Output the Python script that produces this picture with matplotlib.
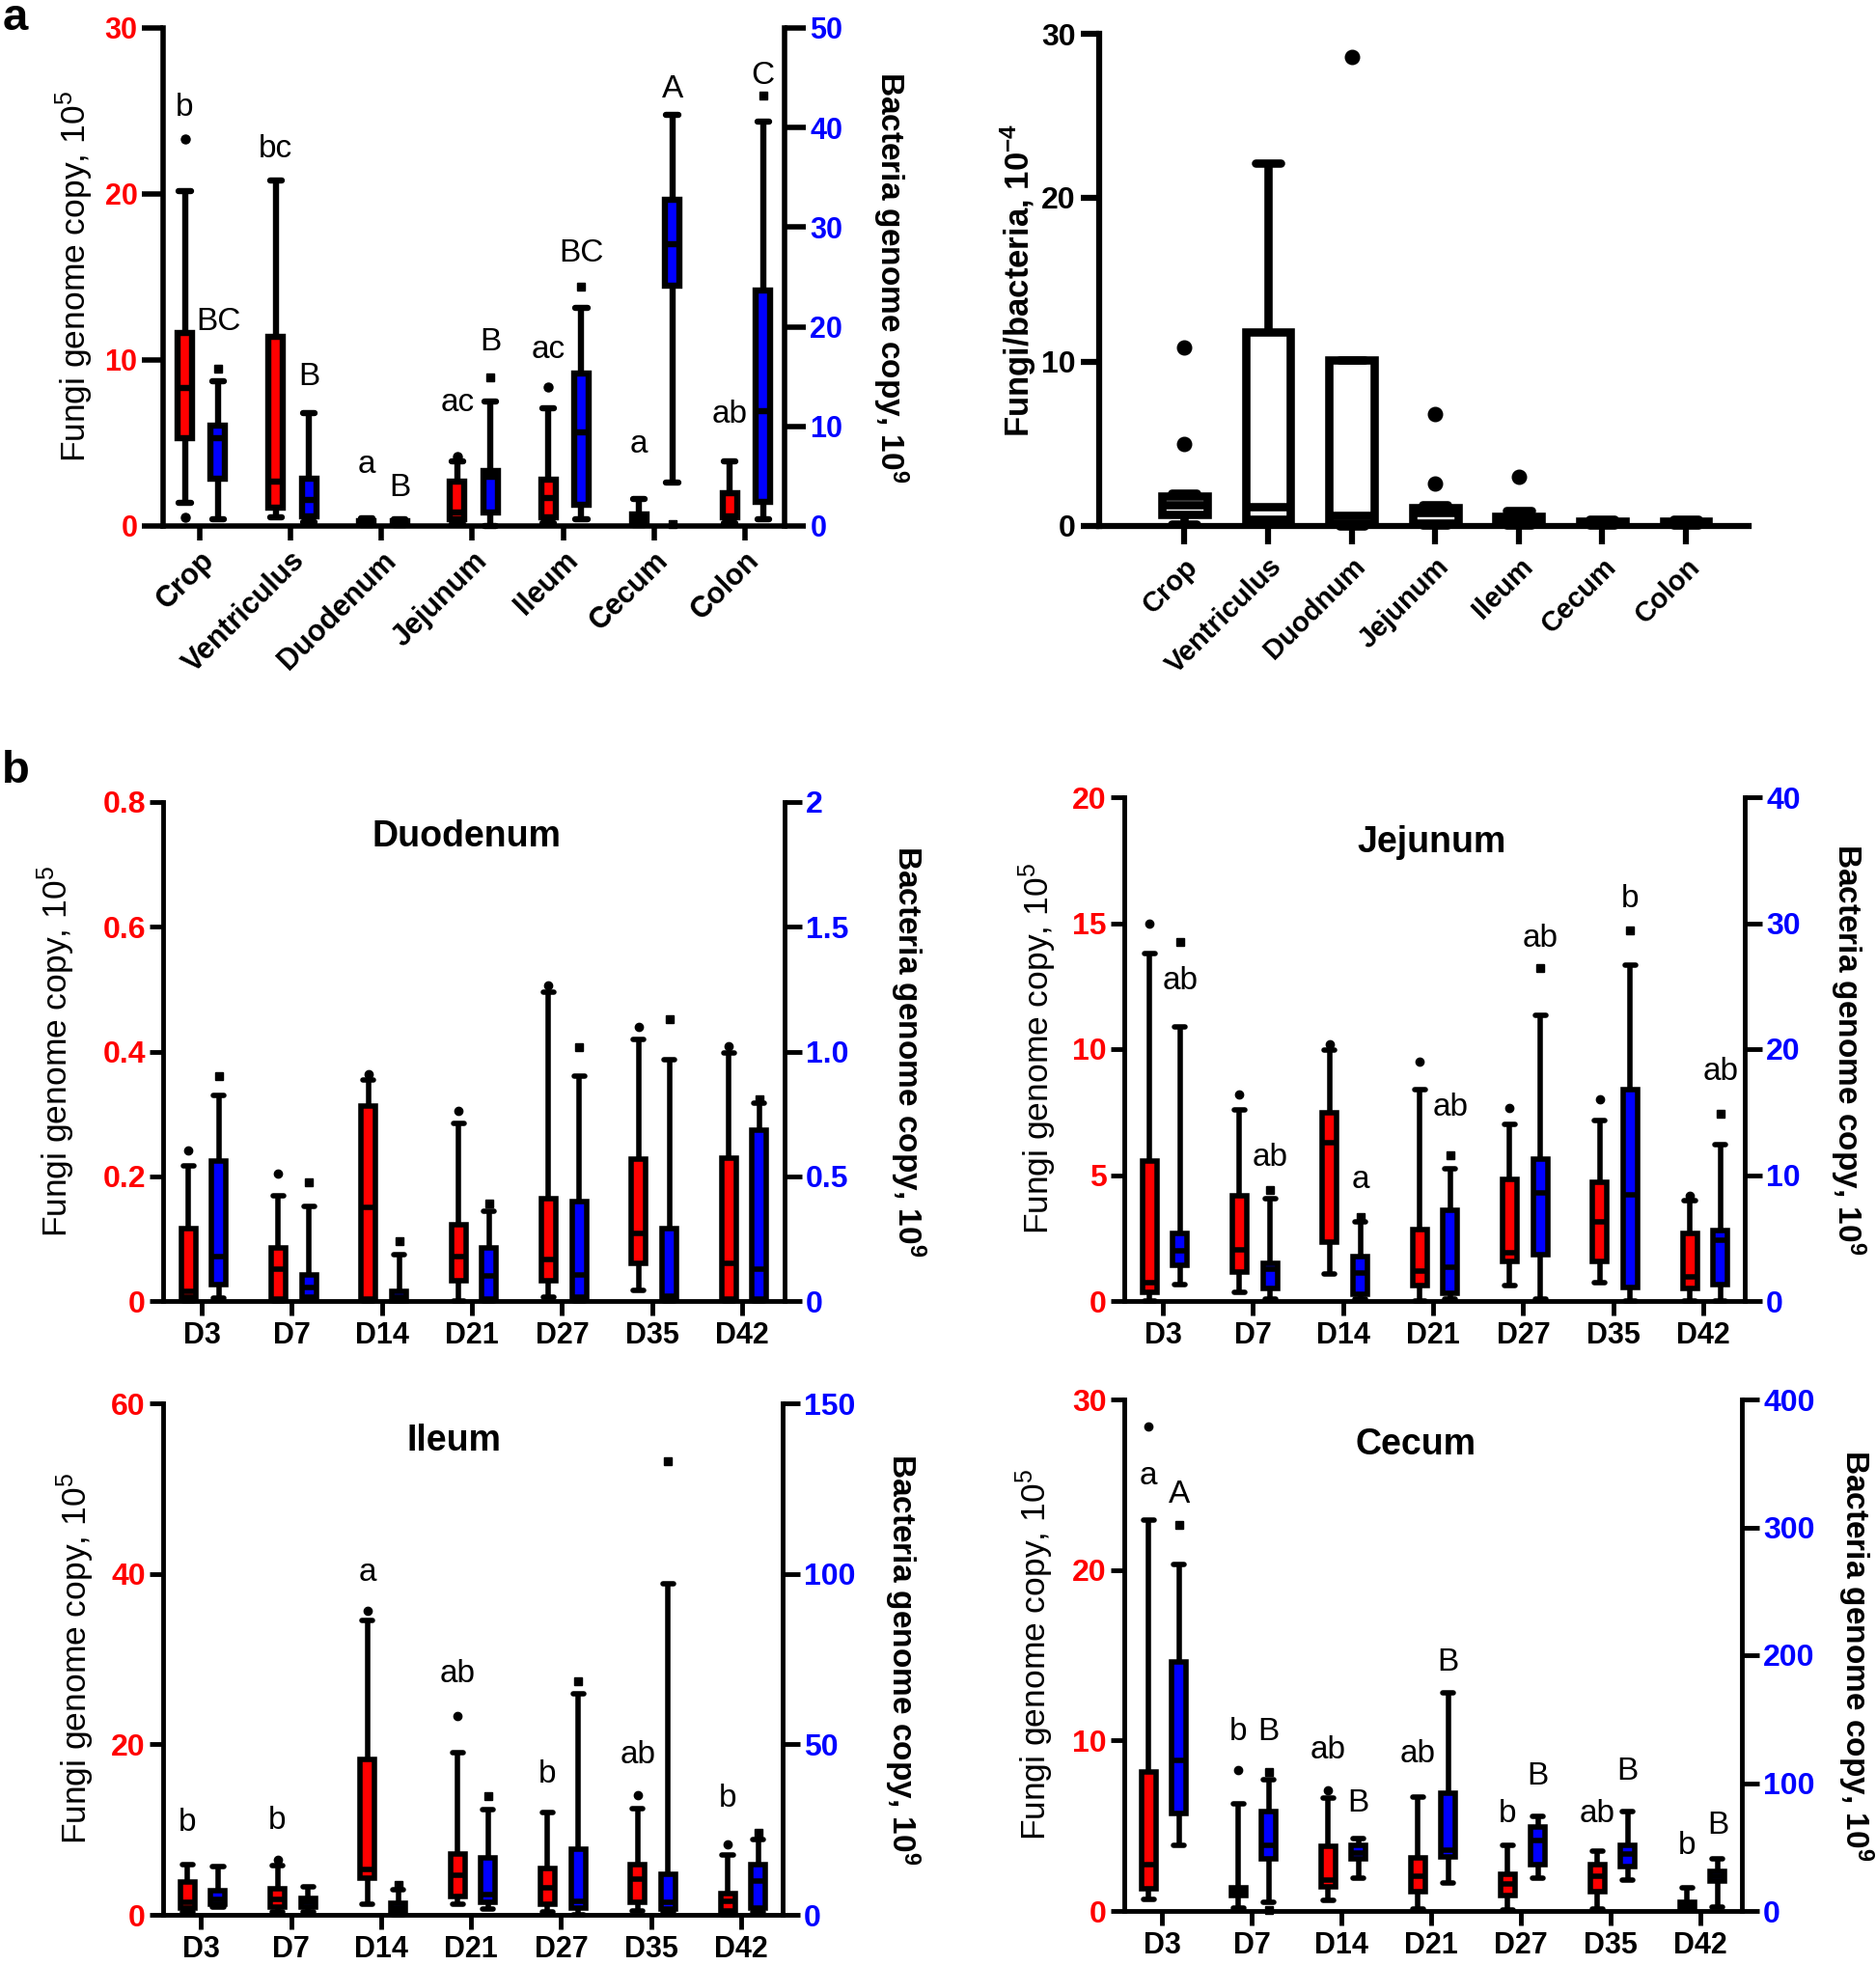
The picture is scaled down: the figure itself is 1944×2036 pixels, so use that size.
import matplotlib.pyplot as plt

plt.rcParams['font.family'] = ['Liberation Sans', 'DejaVu Sans']
plt.rcParams['mathtext.fontset'] = 'custom'
plt.rcParams['mathtext.rm'] = 'Liberation Sans'
plt.rcParams['mathtext.it'] = 'Liberation Sans:italic'
plt.rcParams['mathtext.bf'] = 'Liberation Sans:bold'

RED = '#ff0000'
BLUE = '#0000ff'

# every box is (whisker low, Q1, median, Q3, whisker high)

# --- a, left: genome copies per gut section ---
sites = ['Crop', 'Ventriculus', 'Duodenum', 'Jejunum', 'Ileum', 'Cecum', 'Colon']
site_fungi = [(1.4, 5.3, 8.3, 11.6, 20.2), (0.5, 1.1, 2.7, 11.4, 20.8),
              (0.05, 0.15, 0.2, 0.3, 0.45), (0.1, 0.4, 0.8, 2.7, 3.9),
              (0.2, 0.5, 1.7, 2.8, 7.1), (0.05, 0.3, 0.5, 0.7, 1.6),
              (0.2, 0.5, 0.6, 2.0, 3.9)]
site_fungi_out = [[23.3, 0.5], [], [], [4.2], [8.4], [], []]
site_bact = [(0.7, 4.7, 8.85, 10.1, 14.5), (0.35, 1.0, 2.6, 4.7, 11.3),
             (0.1, 0.2, 0.35, 0.5, 0.7), (0.0, 1.4, 4.9, 5.5, 12.5),
             (0.7, 2.1, 9.4, 15.3, 21.9), (4.4, 24.1, 28.3, 32.8, 41.3),
             (0.7, 2.4, 11.5, 23.6, 40.6)]
site_bact_out = [[15.8], [], [], [14.9], [24.0], [0.2], [43.2]]
site_fungi_letters = ['b', 'bc', 'a', 'ac', 'ac', 'a', 'ab']
site_fungi_letter_y = [25.2, 22.7, 3.7, 7.4, 10.6, 4.9, 6.7]
site_bact_letters = ['BC', 'B', 'B', 'B', 'BC', 'A', 'C']
site_bact_letter_y = [12.3, 9.0, 2.3, 11.1, 16.4, 26.3, 27.1]

# --- a, right: fungi/bacteria ratio ---
ratio_sites = ['Crop', 'Ventriculus', 'Duodnum', 'Jejunum', 'Ileum', 'Cecum', 'Colon']
ratio = [(0.1, 0.7, 1.3, 1.85, 2.0), (0.1, 0.4, 1.2, 11.8, 22.1),
         (0.0, 0.15, 0.65, 10.1, 10.1), (0.05, 0.2, 0.8, 1.1, 1.3),
         (0.05, 0.1, 0.4, 0.6, 0.95), (0.05, 0.1, 0.2, 0.3, 0.4),
         (0.05, 0.1, 0.2, 0.3, 0.4)]
ratio_out = [[10.9, 5.0], [], [28.6], [6.8, 2.6], [3.0], [], []]

# --- b: by age ---
days = ['D3', 'D7', 'D14', 'D21', 'D27', 'D35', 'D42']

duo_fungi = [(0.0, 0.006, 0.016, 0.116, 0.217), (0.0, 0.003, 0.051, 0.085, 0.169),
             (0.0, 0.003, 0.15, 0.312, 0.355), (0.0, 0.032, 0.071, 0.122, 0.285),
             (0.006, 0.032, 0.067, 0.164, 0.495), (0.017, 0.061, 0.109, 0.228, 0.42),
             (0.0, 0.003, 0.061, 0.229, 0.397)]
duo_fungi_out = [[0.241], [0.204], [0.364], [0.305], [0.506], [0.439], [0.409]]
duo_bact = [(0.013, 0.064, 0.177, 0.562, 0.824), (0.005, 0.016, 0.056, 0.104, 0.378),
            (0.0, 0.0, 0.016, 0.037, 0.185), (0.0, 0.008, 0.1, 0.214, 0.358),
            (0.0, 0.016, 0.104, 0.398, 0.90), (0.0, 0.008, 0.02, 0.289, 0.967),
            (0.0, 0.008, 0.128, 0.686, 0.792)]
duo_bact_out = [[0.90], [0.477], [0.241], [0.39], [1.017], [1.13], [0.81]]

jej_fungi = [(0.0, 0.35, 0.71, 5.56, 13.8), (0.35, 1.14, 2.03, 4.16, 7.57),
             (1.08, 2.33, 6.27, 7.46, 9.95), (0.0, 0.63, 1.19, 2.83, 8.4),
             (0.6, 1.56, 1.9, 4.84, 7.0), (0.71, 1.56, 3.14, 4.73, 7.17),
             (0.0, 0.48, 0.95, 2.7, 3.97)]
jej_fungi_out = [[15.0], [8.2], [10.2], [9.5], [7.65], [8.0], [4.16]]
jej_bact = [(1.33, 2.8, 4.0, 5.4, 21.8), (0.16, 1.0, 2.5, 3.0, 8.1),
            (0.16, 0.57, 2.2, 3.5, 6.3), (0.16, 0.63, 2.7, 7.2, 10.5),
            (0.16, 3.65, 8.6, 11.3, 22.7), (0.0, 1.1, 8.4, 16.8, 26.7),
            (0.0, 1.33, 4.8, 5.56, 12.4)]
jej_bact_out = [[28.5], [8.8], [6.7], [11.6], [26.4], [29.4], [14.9]]
jej_bact_letters = ['ab', 'ab', 'a', 'ab', 'ab', 'b', 'ab']
jej_bact_letter_y = [12.7, 5.7, 4.8, 7.7, 14.4, 15.95, 9.1]

ile_fungi = [(0.3, 0.76, 1.5, 3.87, 5.87), (0.3, 0.9, 1.8, 3.1, 5.8),
             (1.2, 4.3, 5.3, 18.2, 34.5), (1.2, 2.2, 4.6, 7.1, 19.0),
             (0.3, 1.2, 3.2, 5.4, 12.0), (0.5, 1.42, 4.2, 5.87, 12.5),
             (0.0, 0.5, 1.6, 2.5, 7.0)]
ile_fungi_out = [[], [6.5], [35.7], [23.3], [], [14.0], [8.3]]
ile_bact = [(2.2, 3.0, 4.5, 7.1, 14.1), (0.8, 2.2, 3.6, 4.7, 8.2),
            (0.0, 0.8, 1.9, 3.3, 7.4), (1.6, 3.6, 6.0, 16.7, 30.8),
            (0.0, 1.9, 4.0, 19.3, 64.7), (0.8, 1.6, 3.6, 11.9, 97.1),
            (0.8, 1.9, 10.0, 14.7, 22.2)]
ile_bact_out = [[], [], [8.9], [34.7], [68.6], [133.0], [24.1]]
ile_fungi_letters = ['b', 'b', 'a', 'ab', 'b', 'ab', 'b']
ile_fungi_letter_y = [10.8, 11.0, 40.1, 28.3, 16.5, 18.7, 13.6]

cec_fungi = [(0.7, 1.33, 2.7, 8.16, 22.9), (0.16, 0.93, 1.15, 1.38, 6.27),
             (0.6, 1.42, 1.82, 3.78, 6.6), (0.09, 1.16, 2.05, 3.11, 6.7),
             (0.04, 0.89, 1.6, 2.16, 3.87), (0.09, 1.16, 2.05, 2.7, 3.5),
             (0.04, 0.16, 0.3, 0.49, 1.38)]
cec_fungi_out = [[28.4], [8.27], [7.1], [], [], [], []]
cec_bact = [(51.6, 76.2, 117.7, 194.8, 271.3), (7.1, 40.6, 51.0, 77.7, 102.9),
            (25.8, 40.6, 45.0, 51.6, 56.9), (21.9, 42.1, 47.4, 91.9, 170.2),
            (25.8, 36.2, 55.4, 65.8, 74.1), (24.3, 34.7, 44.5, 51.0, 77.7),
            (3.0, 23.7, 27.3, 30.8, 40.6)]
cec_bact_out = [[302.0], [108.8, 0.6], [], [], [], [], []]
cec_fungi_letters = ['a', 'b', 'ab', 'ab', 'b', 'ab', 'b']
cec_fungi_letter_y = [25.5, 10.5, 9.4, 9.2, 5.7, 5.7, 3.8]
cec_bact_letters = ['A', 'B', 'B', 'B', 'B', 'B', 'B']
cec_bact_letter_y = [24.4, 10.5, 6.3, 14.6, 7.9, 8.2, 5.0]

FUNGI_LABEL = 'Fungi genome copy, 10$^{5}$'
BACT_LABEL = 'Bacteria genome copy, 10$^{\\mathbf{9}}$'

W, H = 1944, 2036
fig = plt.figure(figsize=(W / 100, H / 100), dpi=100)


def add_axes_px(left, right, top, bottom):
    return fig.add_axes([left / W, 1 - bottom / H, (right - left) / W, (bottom - top) / H])


def draw_boxes(ax, summary, outliers, positions, color, marker, width, capw, lw, ms):
    stats = [dict(whislo=s[0], q1=s[1], med=s[2], q3=s[3], whishi=s[4], fliers=o)
             for s, o in zip(summary, outliers)]
    parts = ax.bxp(stats, positions=positions, widths=width, capwidths=capw,
                   patch_artist=True, manage_ticks=False,
                   boxprops=dict(facecolor=color, edgecolor='black', linewidth=lw),
                   medianprops=dict(color='black', linewidth=lw, solid_capstyle='butt'),
                   whiskerprops=dict(color='black', linewidth=lw, solid_capstyle='butt'),
                   capprops=dict(color='black', linewidth=lw, solid_capstyle='round'),
                   flierprops=dict(marker=marker, markerfacecolor='black',
                                   markeredgecolor='black', markersize=ms))
    for group in parts.values():
        for artist in group:
            artist.set_clip_on(False)


def dual_panel(frame, cats, fungi, fungi_out, bact, bact_out,
               fungi_ticks, fungi_ticklabels, bact_ticks, bact_ticklabels,
               xlim, label_px, rlabel_px, offsets, box_w, capw, lw, spine_lw, ms,
               ytick_len, rtick_len, tick_fs, xtick_fs, label_fs, rotate=False):
    left, right, top, bottom = frame
    ax = add_axes_px(*frame)
    ax2 = ax.twinx()
    n = len(cats)
    draw_boxes(ax, fungi, fungi_out, [i + offsets[0] for i in range(n)],
               RED, 'o', box_w, capw, lw, ms)
    draw_boxes(ax2, bact, bact_out, [i + offsets[1] for i in range(n)],
               BLUE, 's', box_w, capw, lw, ms * 0.9)
    ax.set_xlim(*xlim)
    ax.set_ylim(fungi_ticks[0], fungi_ticks[-1])
    ax2.set_ylim(bact_ticks[0], bact_ticks[-1])

    for s in ['top', 'right']:
        ax.spines[s].set_visible(False)
    for s in ['top', 'left', 'bottom']:
        ax2.spines[s].set_visible(False)
    ax.spines['left'].set_linewidth(spine_lw)
    ax.spines['bottom'].set_linewidth(spine_lw)
    ax2.spines['right'].set_linewidth(spine_lw)

    ax.set_yticks(fungi_ticks, fungi_ticklabels, color=RED, fontweight='bold', fontsize=tick_fs)
    ax2.set_yticks(bact_ticks, bact_ticklabels, color=BLUE, fontweight='bold', fontsize=tick_fs)
    ax.tick_params(axis='y', length=ytick_len, width=spine_lw, pad=3)
    ax2.tick_params(axis='y', length=rtick_len, width=spine_lw, pad=3)
    ax.tick_params(axis='x', length=11, width=spine_lw, pad=4)
    if rotate:
        ax.set_xticks(range(n), cats, fontweight='bold', fontsize=xtick_fs,
                      rotation=45, ha='right', rotation_mode='anchor')
    else:
        ax.set_xticks(range(n), cats, fontweight='bold', fontsize=xtick_fs)

    ax.set_ylabel(FUNGI_LABEL, fontsize=label_fs)
    ax.yaxis.set_label_coords((label_px - left) / (right - left), 0.5)
    ax.yaxis.label.set_va('center')
    ax2.set_ylabel(BACT_LABEL, fontsize=label_fs - 1.5, fontweight='bold', rotation=270)
    ax2.yaxis.set_label_coords((rlabel_px - left) / (right - left), 0.5)
    ax2.yaxis.label.set_va('center')
    return ax, ax2


def put_letters(ax, letters, heights, offset, fs):
    for i, (txt, y) in enumerate(zip(letters, heights)):
        ax.text(i + offset, y, txt, ha='center', va='center', fontsize=fs, zorder=5)


# ---------- a, left ----------
RED_A, BLUE_A = -0.165, 0.2
ax_a, _ = dual_panel((169, 813, 29, 545), sites, site_fungi, site_fungi_out,
                     site_bact, site_bact_out,
                     [0, 10, 20, 30], ['0', '10', '20', '30'],
                     [0, 10, 20, 30, 40, 50], ['0', '10', '20', '30', '40', '50'],
                     (-0.405, 6.437), 77, 923, (RED_A, BLUE_A), 0.16, 0.13, 4.6, 4.0, 6.5,
                     16, 16, 22, 22, 25.5, rotate=True)
put_letters(ax_a, site_fungi_letters, site_fungi_letter_y, RED_A, 24)
put_letters(ax_a, site_bact_letters, site_bact_letter_y, BLUE_A, 24)

# ---------- a, right ----------
ax_r = add_axes_px(1139, 1812, 35, 545)
draw_boxes(ax_r, ratio, ratio_out, list(range(len(ratio_sites))), 'white', 'o',
           0.54, 0.3, 6.2, 10.5)
ax_r.set_xlim(-1.02, 6.75)
ax_r.set_ylim(0, 30)
for s in ['top', 'right']:
    ax_r.spines[s].set_visible(False)
for s in ['left', 'bottom']:
    ax_r.spines[s].set_linewidth(4.5)
ax_r.set_yticks([0, 10, 20, 30], ['0', '10', '20', '30'], fontweight='bold', fontsize=23)
ax_r.set_xticks(range(len(ratio_sites)), ratio_sites, fontweight='bold', fontsize=21,
                rotation=45, ha='right', rotation_mode='anchor')
ax_r.tick_params(axis='y', length=14, width=4.5)
ax_r.tick_params(axis='x', length=14, width=4.5, pad=6)
ax_r.set_ylabel('Fungi/bacteria, 10$^{\\mathbf{-4}}$', fontsize=25, fontweight='bold')
ax_r.yaxis.set_label_coords((1055 - 1139) / (1812 - 1139), 0.5)
ax_r.yaxis.label.set_va('center')

# ---------- b ----------
RED_B, BLUE_B = -0.15, 0.19
common = dict(offsets=(RED_B, BLUE_B), box_w=0.16, capw=0.12, lw=4.0, spine_lw=3.5,
              ms=6.0, ytick_len=10, rtick_len=13, tick_fs=23, xtick_fs=22, label_fs=25.5)

ax_d, _ = dual_panel((169, 813, 831, 1348), days, duo_fungi, duo_fungi_out,
                     duo_bact, duo_bact_out,
                     [0, 0.2, 0.4, 0.6, 0.8], ['0', '0.2', '0.4', '0.6', '0.8'],
                     [0, 0.5, 1.0, 1.5, 2.0], ['0', '0.5', '1.0', '1.5', '2'],
                     (-0.43, 6.47), 58, 941, **common)
ax_d.text(0.488, 0.93, 'Duodenum', transform=ax_d.transAxes, ha='center', va='center',
          fontsize=27, fontweight='bold')

ax_j, _ = dual_panel((1165, 1808, 826, 1348), days, jej_fungi, jej_fungi_out,
                     jej_bact, jej_bact_out,
                     [0, 5, 10, 15, 20], ['0', '5', '10', '15', '20'],
                     [0, 10, 20, 30, 40], ['0', '10', '20', '30', '40'],
                     (-0.43, 6.46), 1075, 1915, **common)
ax_j.text(0.496, 0.91, 'Jejunum', transform=ax_j.transAxes, ha='center', va='center',
          fontsize=27, fontweight='bold')
put_letters(ax_j, jej_bact_letters, jej_bact_letter_y, BLUE_B, 24)

ax_i, _ = dual_panel((169, 811, 1454, 1984), days, ile_fungi, ile_fungi_out,
                     ile_bact, ile_bact_out,
                     [0, 20, 40, 60], ['0', '20', '40', '60'],
                     [0, 50, 100, 150], ['0', '50', '100', '150'],
                     (-0.42, 6.46), 78, 935, **common)
ax_i.text(0.469, 0.926, 'Ileum', transform=ax_i.transAxes, ha='center', va='center',
          fontsize=27, fontweight='bold')
put_letters(ax_i, ile_fungi_letters, ile_fungi_letter_y, RED_B, 24)

ax_c, _ = dual_panel((1165, 1805, 1450, 1980), days, cec_fungi, cec_fungi_out,
                     cec_bact, cec_bact_out,
                     [0, 10, 20, 30], ['0', '10', '20', '30'],
                     [0, 100, 200, 300, 400], ['0', '100', '200', '300', '400'],
                     (-0.42, 6.46), 1072, 1923, **common)
ax_c.text(0.472, 0.911, 'Cecum', transform=ax_c.transAxes, ha='center', va='center',
          fontsize=27, fontweight='bold')
put_letters(ax_c, cec_fungi_letters, cec_fungi_letter_y, RED_B, 24)
put_letters(ax_c, cec_bact_letters, cec_bact_letter_y, BLUE_B, 24)

fig.text(16 / W, 1 - 19 / H, 'a', fontsize=34, fontweight='bold', ha='center', va='center')
fig.text(16 / W, 1 - 799 / H, 'b', fontsize=34, fontweight='bold', ha='center', va='center')

fig.savefig('out.png', dpi=100)
